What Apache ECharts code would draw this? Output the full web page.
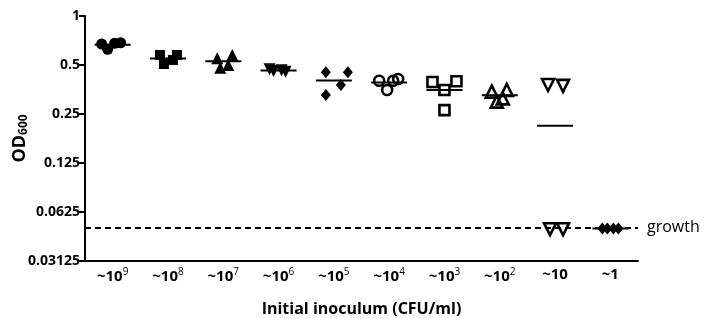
<!DOCTYPE html>
<html>
<head>
<meta charset="utf-8">
<script src="https://cdn.jsdelivr.net/npm/echarts@6/dist/echarts.min.js"></script>
<style>
  html, body { margin: 0; padding: 0; background: #fff; }
  #chart { width: 709px; height: 319px; }
</style>
</head>
<body>
<div id="chart"></div>
<script>
// categories: initial inoculum (CFU/ml), shown as "~10" + exponent
const catBase = ['~10', '~10', '~10', '~10', '~10', '~10', '~10', '~10', '~10', '~1'];
const catExp = ['9', '8', '7', '6', '5', '4', '3', '2', '', ''];

// OD600 per replicate, one array per inoculum
const od_1e9 = [0.673, 0.624, 0.68, 0.685];
const od_1e8 = [0.576, 0.507, 0.537, 0.576];
const od_1e7 = [0.55, 0.481, 0.5, 0.576];
const od_1e6 = [0.47, 0.46, 0.465, 0.455];
const od_1e5 = [0.451, 0.327, 0.377, 0.451];
const od_1e4 = [0.40, 0.351, 0.40, 0.41];
const od_1e3 = [0.393, 0.351, 0.397, 0.264];
const od_1e2 = [0.343, 0.298, 0.351, 0.312];
const od_1e1 = [0.377, 0.372, 0.049, 0.049];
const od_1e0 = [0.0495, 0.0495, 0.0495, 0.0495];

const growthCutoff = 0.051;
const yTicks = [0.03125, 0.0625, 0.125, 0.25, 0.5, 1];

const groups = [od_1e9, od_1e8, od_1e7, od_1e6, od_1e5, od_1e4, od_1e3, od_1e2, od_1e1, od_1e0];

// marker look per group (style only)
const marks = [
  { symbol: 'circle', open: false, size: 11 },
  { symbol: 'rect', open: false, size: 10 },
  { symbol: 'triangle', open: false, size: 12 },
  { symbol: 'triangle', open: false, size: 12, rotate: 180 },
  { symbol: 'diamond', open: false, size: [10, 12] },
  { symbol: 'circle', open: true, size: 10 },
  { symbol: 'rect', open: true, size: 10 },
  { symbol: 'triangle', open: true, size: 12 },
  { symbol: 'triangle', open: true, size: 12, rotate: 180 },
  { symbol: 'diamond', open: false, size: [10, 12] }
];
// horizontal scatter of replicates inside a column, in px (style only)
const jitter = [
  [-11, -5, 2, 8], [-8, -4, 5, 9], [-6, -3, 5, 9], [-9, -5, 3, 7], [-8, -8, 7, 14],
  [-10, -2, 4, 9], [-12, 0, 12, 0], [-8, -3, 7, 3], [-7, 8, -5, 8], [-8, -3, 3, 8]
];

const cats = catBase.map((b, i) => b + catExp[i]);
const mean = arr => arr.reduce((a, b) => a + b, 0) / arr.length;

const pointData = [];
groups.forEach((vals, i) => {
  const m = marks[i];
  vals.forEach((v, j) => {
    pointData.push({
      value: [cats[i], v],
      symbol: m.symbol,
      symbolSize: m.size,
      symbolRotate: m.rotate || 0,
      symbolOffset: [jitter[i][j], 0],
      itemStyle: m.open
        ? { color: 'rgba(0,0,0,0)', borderColor: '#000', borderWidth: 2.6, opacity: 1 }
        : { color: '#000', opacity: 1 }
    });
  });
});

const meanData = groups.map((vals, i) => [cats[i], mean(vals)]);

const font = '"Open Sans", Lato, sans-serif';

const chart = echarts.init(document.getElementById('chart'));
chart.setOption({
  animation: false,
  grid: { left: 85, right: 71, top: 16, bottom: 58, outerBoundsMode: 'none', containLabel: false },
  xAxis: {
    type: 'category',
    data: cats,
    name: 'Initial inoculum (CFU/ml)',
    nameLocation: 'middle',
    nameGap: 40,
    nameMoveOverlap: false,
    nameTextStyle: { fontFamily: font, fontWeight: 'bold', fontSize: 16, color: '#000' },
    axisLine: { lineStyle: { color: '#000', width: 2 } },
    axisTick: { alignWithLabel: true, length: 5, lineStyle: { color: '#000', width: 2 } },
    axisLabel: {
      margin: 6,
      interval: 0,
      formatter: (val, idx) => '{b|' + catBase[idx] + '}' + (catExp[idx] ? '{s|' + catExp[idx] + '}' : ''),
      rich: {
        b: { fontFamily: font, fontWeight: 'bold', fontSize: 15, color: '#000' },
        s: { fontFamily: font, fontSize: 10, color: '#000', padding: [0, 0, 9, 0] }
      }
    }
  },
  yAxis: {
    type: 'log',
    logBase: 2,
    min: 0.03125,
    max: 1,
    name: '{b|OD}{s|600}',
    nameLocation: 'middle',
    nameGap: 55,
    nameMoveOverlap: false,
    nameTextStyle: {
      rich: {
        b: { fontFamily: font, fontWeight: 'bold', fontSize: 18, color: '#000' },
        s: { fontFamily: font, fontWeight: 'bold', fontSize: 12, color: '#000', padding: [8, 0, 0, 0] }
      }
    },
    splitLine: { show: false },
    minorTick: { show: false },
    axisLine: { show: true, lineStyle: { color: '#000', width: 2 } },
    axisTick: { show: true, length: 6, lineStyle: { color: '#000', width: 2 } },
    axisLabel: {
      margin: 5,
      fontFamily: font,
      fontWeight: 'bold',
      fontSize: 14,
      color: '#000',
      formatter: v => {
        let best = yTicks[0];
        yTicks.forEach(t => { if (Math.abs(Math.log(t) - Math.log(v)) < Math.abs(Math.log(best) - Math.log(v))) best = t; });
        return String(best);
      }
    }
  },
  series: [
    {
      name: 'mean',
      type: 'scatter',
      z: 1,
      symbol: 'rect',
      symbolSize: [36, 2],
      itemStyle: { color: '#000', opacity: 1 },
      data: meanData,
      markLine: {
        silent: true,
        symbol: 'none',
        lineStyle: { color: '#000', width: 2, type: [6, 4] },
        label: {
          position: 'end',
          formatter: 'growth',
          distance: 9,
          fontFamily: font,
          fontSize: 16,
          color: '#000'
        },
        data: [{ yAxis: growthCutoff }]
      }
    },
    {
      name: 'OD600',
      type: 'scatter',
      z: 2,
      data: pointData
    }
  ]
});
</script>
</body>
</html>
